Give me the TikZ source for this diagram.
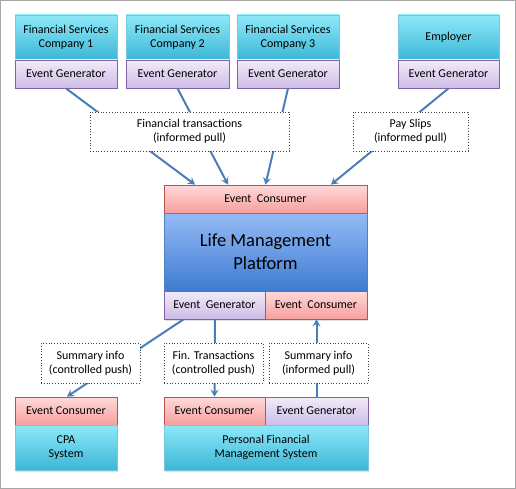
\documentclass[tikz,border=0pt]{standalone}
\usepackage{fontspec}
\setmainfont{Carlito}
\usetikzlibrary{arrows.meta,shadows,calc}
\definecolor{cyTop}{HTML}{8EE9F9}
\definecolor{cyBot}{HTML}{3CB6D6}
\definecolor{cyBorder}{HTML}{79C7DC}
\definecolor{puTop}{HTML}{F2EBF9}
\definecolor{puBot}{HTML}{CDBCE6}
\definecolor{puBorder}{HTML}{8064A2}
\definecolor{rdTop}{HTML}{FFD9D8}
\definecolor{rdBot}{HTML}{F5A09E}
\definecolor{rdBorder}{HTML}{C0504D}
\definecolor{blTop}{HTML}{94BBF5}
\definecolor{blBot}{HTML}{3E7BD2}
\definecolor{blBorder}{HTML}{4F81BD}
\definecolor{arrowBlue}{HTML}{4A7EBB}
\tikzset{
  base/.style={draw, line width=0.8pt, inner sep=1pt, align=center, font=\fontsize{12}{14}\selectfont,
    drop shadow={shadow xshift=1pt, shadow yshift=-1.5pt, opacity=0.25}},
  cybox/.style={base, draw=cyBorder, top color=cyTop, bottom color=cyBot},
  genbox/.style={base, draw=puBorder, top color=puTop, bottom color=puBot},
  conbox/.style={base, draw=rdBorder, top color=rdTop, bottom color=rdBot},
  lmpbox/.style={base, draw=blBorder, top color=blTop, bottom color=blBot, font=\fontsize{18.5}{23}\selectfont},
  infobox/.style={draw=black!75, dotted, line width=0.8pt, fill=white, align=center, inner sep=1pt, font=\fontsize{12}{14}\selectfont},
  flow/.style={draw=arrowBlue, line width=2pt, -{Stealth[length=7pt,width=8pt,inset=2.5pt]}}
}
\begin{document}
\begin{tikzpicture}[x=1pt,y=-1pt]
\path[use as bounding box] (0,0) rectangle (516,489);
\draw[gray!70, line width=1pt] (0.5,0.5) rectangle (515.5,488.5);

% top sources
\node[cybox, minimum width=102pt, minimum height=45pt] (c1) at (66,37.5) {Financial Services\\Company 1};
\node[genbox, minimum width=102pt, minimum height=28pt] (g1) at (66,74) {Event Generator};
\node[cybox, minimum width=103pt, minimum height=45pt] (c2) at (177.5,37.5) {Financial Services\\Company 2};
\node[genbox, minimum width=103pt, minimum height=28pt] (g2) at (177.5,74) {Event Generator};
\node[cybox, minimum width=102pt, minimum height=45pt] (c3) at (288,37.5) {Financial Services\\Company 3};
\node[genbox, minimum width=102pt, minimum height=28pt] (g3) at (288,74) {Event Generator};
\node[cybox, minimum width=101pt, minimum height=45pt] (c4) at (448.5,37.5) {Employer};
\node[genbox, minimum width=101pt, minimum height=28pt] (g4) at (448.5,74) {Event Generator};

% life management platform
\node[conbox, minimum width=203pt, minimum height=28pt] (lc) at (265.5,199) {Event\ \ Consumer};
\node[lmpbox, minimum width=203pt, minimum height=78pt] (lmp) at (265.5,252) {Life Management\\Platform};
\node[genbox, minimum width=101pt, minimum height=28pt] (lg) at (214.5,305) {Event\ \ Generator};
\node[conbox, minimum width=102pt, minimum height=28pt] (lc2) at (316,305) {Event\ \ Consumer};

% bottom consumers
\node[conbox, minimum width=102pt, minimum height=28pt] (cc) at (66,411) {Event Consumer};
\node[cybox, minimum width=102pt, minimum height=45pt] (cpa) at (66,447.5) {CPA\\System};
\node[conbox, minimum width=101pt, minimum height=28pt] (pc) at (214.5,411) {Event Consumer};
\node[genbox, minimum width=103pt, minimum height=28pt] (pg) at (316.5,411) {Event Generator};
\node[cybox, minimum width=204pt, minimum height=45pt] (pf) at (266,447.5) {Personal Financial\\Management System};

% connectors
\draw[flow] (g1.south) -- ([xshift=-70.5pt]lc.north);
\draw[flow] (g2.south) -- ([xshift=-37.5pt]lc.north);
\draw[flow] (g3.south) -- (lc.north);
\draw[flow] (g4.south) -- ([xshift=65.5pt]lc.north);
\draw[flow] ([xshift=-31pt]lg.south) -- ([xshift=1pt]cc.north);
\draw[flow] ([xshift=0.5pt]lg.south) -- (pc.north);
\draw[flow] (pg.north) -- ([xshift=0.5pt]lc2.south);

% dotted info boxes
\node[infobox, minimum width=199pt, minimum height=39pt] (ft) at (189.5,131.5) {Financial transactions\\(informed pull)};
\node[infobox, minimum width=115pt, minimum height=39pt] (ps) at (410.5,131.5) {Pay Slips\\(informed pull)};
\node[infobox, minimum width=99pt, minimum height=40pt] (si1) at (90.5,363) {Summary info\\(controlled push)};
\node[infobox, minimum width=99pt, minimum height=40pt] (ft2) at (213.5,363) {Fin. Transactions\\(controlled push)};
\node[infobox, minimum width=99pt, minimum height=40pt] (si2) at (318.5,363) {Summary info\\(informed pull)};
\end{tikzpicture}
\end{document}
